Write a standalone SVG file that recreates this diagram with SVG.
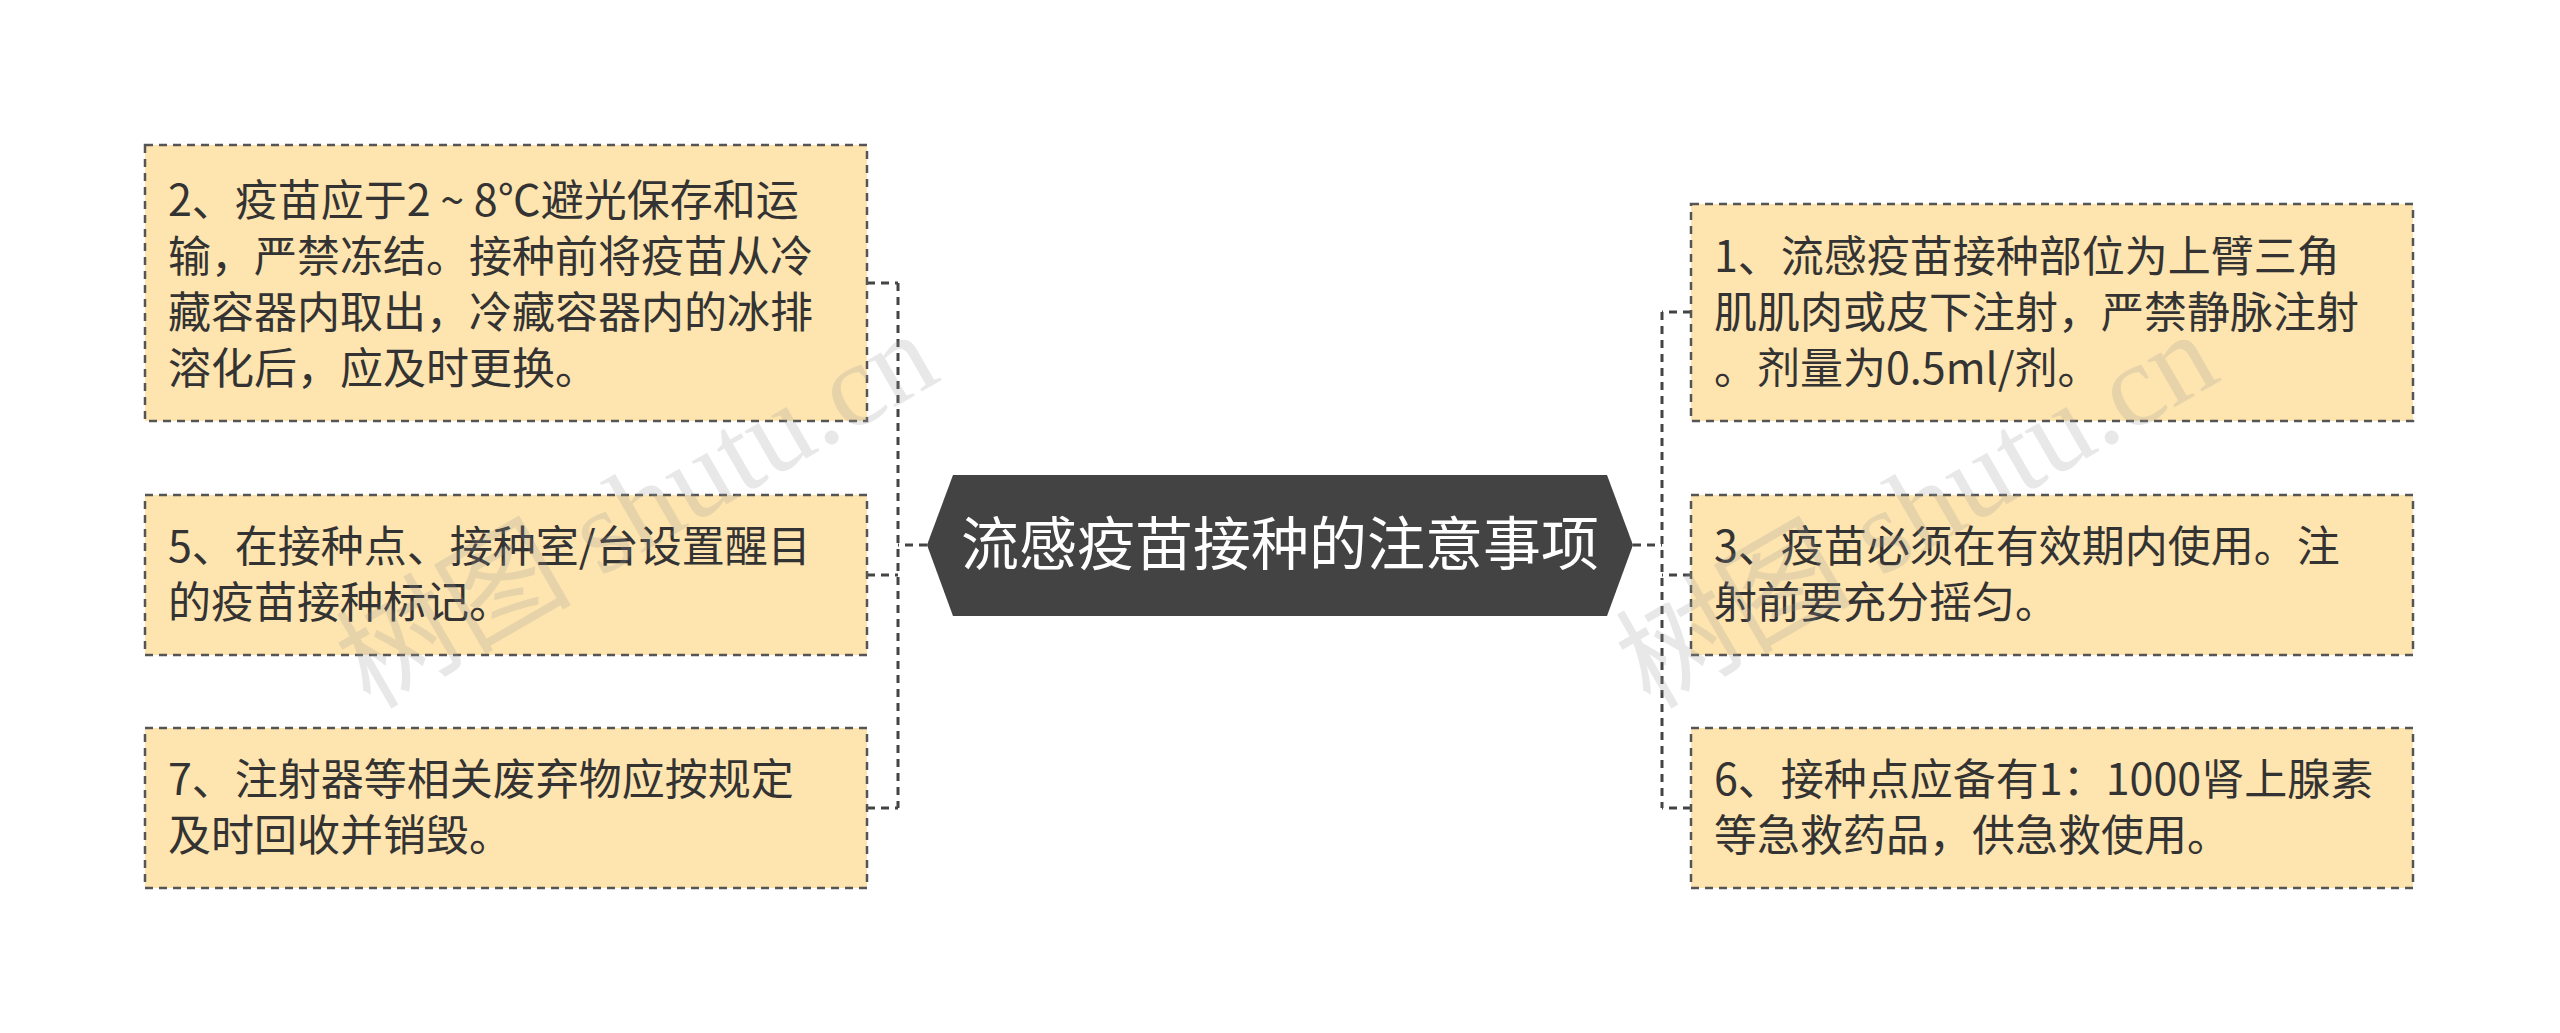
<svg xmlns="http://www.w3.org/2000/svg" width="2560" height="1033" viewBox="0 0 2560 1033">
<style>
.box{fill:#fee4ae;stroke:#555;stroke-width:2.5;stroke-dasharray:8 6}
.t{font-family:"Noto Sans CJK SC","Noto Sans",sans-serif;font-size:43px;fill:#333}
.c{fill:none;stroke:#444;stroke-width:3;stroke-dasharray:8 6}
.wm{font-family:"Liberation Serif","Noto Sans CJK SC",serif;font-size:118px;fill:#999;opacity:0.22}
</style>
<rect width="2560" height="1033" fill="#fff"/>
<g id="connectors">
<path class="c" d="M927 545H898M898 283V808M867 283H898M867 575H898M867 808H898"/>
<path class="c" d="M1633 545H1662M1662 312V808M1691 312H1662M1691 575H1662M1691 808H1662"/>
</g>
<g id="center">
<polygon points="927,545 953,475 1607,475 1633,545 1607,616 953,616" fill="#434343"/>
<text x="1280" y="565" text-anchor="middle" font-family="Noto Sans CJK SC,sans-serif" font-size="58" fill="#fff">流感疫苗接种的注意事项</text>
</g>
<g id="n2"><rect class="box" x="145" y="145" width="722" height="276"/>
<text class="t" x="168" y="216">2、疫苗应于2 ~ 8℃避光保存和运</text>
<text class="t" x="168" y="272">输，严禁冻结。接种前将疫苗从冷</text>
<text class="t" x="168" y="328">藏容器内取出，冷藏容器内的冰排</text>
<text class="t" x="168" y="384">溶化后，应及时更换。</text></g>
<g id="n5"><rect class="box" x="145" y="495" width="722" height="160"/>
<text class="t" x="168" y="562">5、在接种点、接种室/台设置醒目</text>
<text class="t" x="168" y="618">的疫苗接种标记。</text></g>
<g id="n7"><rect class="box" x="145" y="728" width="722" height="160"/>
<text class="t" x="168" y="795">7、注射器等相关废弃物应按规定</text>
<text class="t" x="168" y="851">及时回收并销毁。</text></g>
<g id="n1"><rect class="box" x="1691" y="204" width="722" height="217"/>
<text class="t" x="1714" y="272">1、流感疫苗接种部位为上臂三角</text>
<text class="t" x="1714" y="328">肌肌肉或皮下注射，严禁静脉注射</text>
<text class="t" x="1714" y="384">。剂量为0.5ml/剂。</text></g>
<g id="n3"><rect class="box" x="1691" y="495" width="722" height="160"/>
<text class="t" x="1714" y="562">3、疫苗必须在有效期内使用。注</text>
<text class="t" x="1714" y="618">射前要充分摇匀。</text></g>
<g id="n6"><rect class="box" x="1691" y="728" width="722" height="160"/>
<text class="t" x="1714" y="795">6、接种点应备有1：1000肾上腺素</text>
<text class="t" x="1714" y="851">等急救药品，供急救使用。</text></g>
<g id="watermarks">
<text class="wm" transform="translate(370,710) rotate(-30)">树图 shutu.cn</text>
<text class="wm" transform="translate(1650,710) rotate(-30)">树图 shutu.cn</text>
</g>
</svg>
